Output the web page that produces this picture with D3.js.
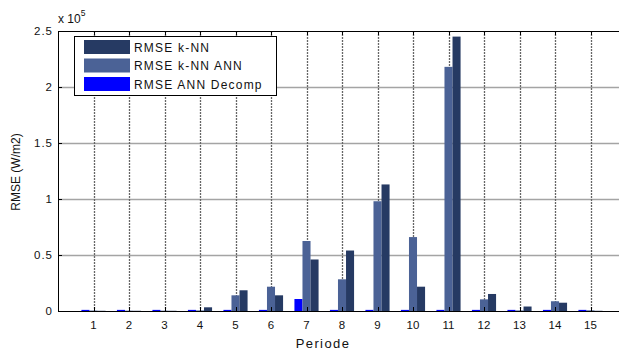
<!DOCTYPE html>
<html>
<head>
<meta charset="utf-8">
<script src="https://cdn.jsdelivr.net/npm/d3@7"></script>
<style>
  body { margin: 0; background: #fff; }
  svg { display: block; }
  text { font-family: "Liberation Sans", Arial, sans-serif; fill: #111; }
</style>
</head>
<body>
<svg id="chart" width="619" height="353"></svg>
<script>
// data, values in units of 1e5 W/m2
const periods = [1, 2, 3, 4, 5, 6, 7, 8, 9, 10, 11, 12, 13, 14, 15];
const seriesNames = ["RMSE k-NN", "RMSE k-NN ANN", "RMSE ANN Decomp"];
const rmseKnn = [0.002, 0.002, 0.002, 0.033, 0.185, 0.14, 0.46, 0.54, 1.13, 0.217, 2.45, 0.152, 0.04, 0.074, 0.002];
const rmseKnnAnn = [0.004, 0.003, 0.003, 0.005, 0.14, 0.217, 0.625, 0.283, 0.98, 0.66, 2.18, 0.104, 0.005, 0.087, 0.006];
const rmseAnnDecomp = [0.01, 0.01, 0.01, 0.01, 0.01, 0.01, 0.107, 0.01, 0.01, 0.01, 0.01, 0.01, 0.01, 0.01, 0.01];
const yTicks = [0, 0.5, 1, 1.5, 2, 2.5];
const yTickLabels = ["0", "0.5", "1", "1.5", "2", "2.5"];

const colors = {
  "RMSE k-NN": "#263a63",
  "RMSE k-NN ANN": "#4b6296",
  "RMSE ANN Decomp": "#0000ff"
};

const svg = d3.select("#chart");

const x = d3.scaleLinear().domain([0, 16]).range([58, 626]);
const y = d3.scaleLinear().domain([0, 2.5]).range([311, 31]);
const plotLeft = x(0), plotRight = 619, plotTop = y(2.5), plotBottom = y(0);

// order of bars inside a group: decomp, knn ann, knn
const step = x(2) - x(1);
const inner = d3.scaleBand()
  .domain(["RMSE ANN Decomp", "RMSE k-NN ANN", "RMSE k-NN"])
  .range([-step * 0.34, step * 0.34]);

const rows = periods.map((p, i) => ({
  period: p,
  "RMSE k-NN": rmseKnn[i],
  "RMSE k-NN ANN": rmseKnnAnn[i],
  "RMSE ANN Decomp": rmseAnnDecomp[i]
}));

// grid
svg.append("g")
  .selectAll("line")
  .data(yTicks.filter(d => d > 0 && d < 2.5))
  .join("line")
  .attr("x1", plotLeft).attr("x2", plotRight)
  .attr("y1", d => Math.round(y(d)) + 0.5).attr("y2", d => Math.round(y(d)) + 0.5)
  .attr("stroke", "#a4a4a4")
  .attr("stroke-width", 1.5);

svg.append("g")
  .selectAll("line")
  .data(periods)
  .join("line")
  .attr("x1", d => Math.round(x(d)) + 0.5).attr("x2", d => Math.round(x(d)) + 0.5)
  .attr("y1", plotTop).attr("y2", plotBottom)
  .attr("stroke", "#666")
  .attr("stroke-dasharray", "2,1")
  .attr("stroke-width", 1.3);

// bars
const groups = svg.append("g")
  .selectAll("g")
  .data(rows)
  .join("g")
  .attr("transform", d => "translate(" + x(d.period) + ",0)");

groups.selectAll("rect")
  .data(d => inner.domain().map(k => ({ key: k, value: d[k] })))
  .join("rect")
  .attr("x", d => inner(d.key))
  .attr("width", inner.bandwidth())
  .attr("y", d => y(d.value))
  .attr("height", d => y(0) - y(d.value))
  .attr("fill", d => colors[d.key]);

// axes frame
const frame = svg.append("g").attr("stroke", "#000").attr("stroke-width", 1);
frame.append("line").attr("x1", plotLeft).attr("x2", plotRight).attr("y1", plotTop + 0.5).attr("y2", plotTop + 0.5);
frame.append("line").attr("x1", plotLeft).attr("x2", plotRight).attr("y1", plotBottom + 0.5).attr("y2", plotBottom + 0.5);
frame.append("line").attr("x1", plotLeft + 0.5).attr("x2", plotLeft + 0.5).attr("y1", plotTop).attr("y2", plotBottom + 1);

// ticks (inward)
frame.selectAll(".xt")
  .data(periods)
  .join("line")
  .attr("x1", d => Math.round(x(d)) + 0.5).attr("x2", d => Math.round(x(d)) + 0.5)
  .attr("y1", plotBottom).attr("y2", plotBottom - 4);
frame.selectAll(".xtt")
  .data(periods)
  .join("line")
  .attr("x1", d => Math.round(x(d)) + 0.5).attr("x2", d => Math.round(x(d)) + 0.5)
  .attr("y1", plotTop).attr("y2", plotTop + 4);
frame.selectAll(".yt")
  .data(yTicks)
  .join("line")
  .attr("x1", plotLeft).attr("x2", plotLeft + 4)
  .attr("y1", d => Math.round(y(d)) + 0.5).attr("y2", d => Math.round(y(d)) + 0.5);

// tick labels
svg.append("g")
  .selectAll("text")
  .data(periods)
  .join("text")
  .attr("x", d => x(d))
  .attr("y", plotBottom + 18)
  .attr("text-anchor", "middle")
  .style("font-size", "11.5px")
  .text(d => d);

svg.append("g")
  .selectAll("text")
  .data(yTicks)
  .join("text")
  .attr("x", plotLeft - 5)
  .attr("y", d => y(d) + 4)
  .attr("text-anchor", "end")
  .style("font-size", "11.5px")
  .style("letter-spacing", "1px")
  .text((d, i) => yTickLabels[i]);

// exponent
const expo = svg.append("text").attr("x", plotLeft).attr("y", 23).style("font-size", "12px");
expo.append("tspan").text("x 10");
expo.append("tspan").attr("dy", -7).style("font-size", "8.5px").text("5");

// axis titles
svg.append("text")
  .attr("x", 323)
  .attr("y", 348)
  .attr("text-anchor", "middle")
  .style("font-size", "13px")
  .style("letter-spacing", "1.4px")
  .text("Periode");

svg.append("text")
  .attr("transform", "translate(20," + 172 + ") rotate(-90)")
  .attr("text-anchor", "middle")
  .style("font-size", "12px")
  .text("RMSE (W/m2)");

// legend
const legend = svg.append("g").attr("transform", "translate(74,36)");
legend.append("rect")
  .attr("x", 0.5).attr("y", 0.5)
  .attr("width", 202).attr("height", 59)
  .attr("fill", "#fff")
  .attr("stroke", "#000");

const items = legend.selectAll("g")
  .data(seriesNames)
  .join("g")
  .attr("transform", (d, i) => "translate(10," + (4 + i * 18.5) + ")");
items.append("rect")
  .attr("width", 46).attr("height", 14)
  .attr("fill", d => colors[d]);
items.append("text")
  .attr("x", 50).attr("y", 11.5)
  .style("font-size", "12px")
  .style("letter-spacing", "1.2px")
  .text(d => d);
</script>
</body>
</html>
